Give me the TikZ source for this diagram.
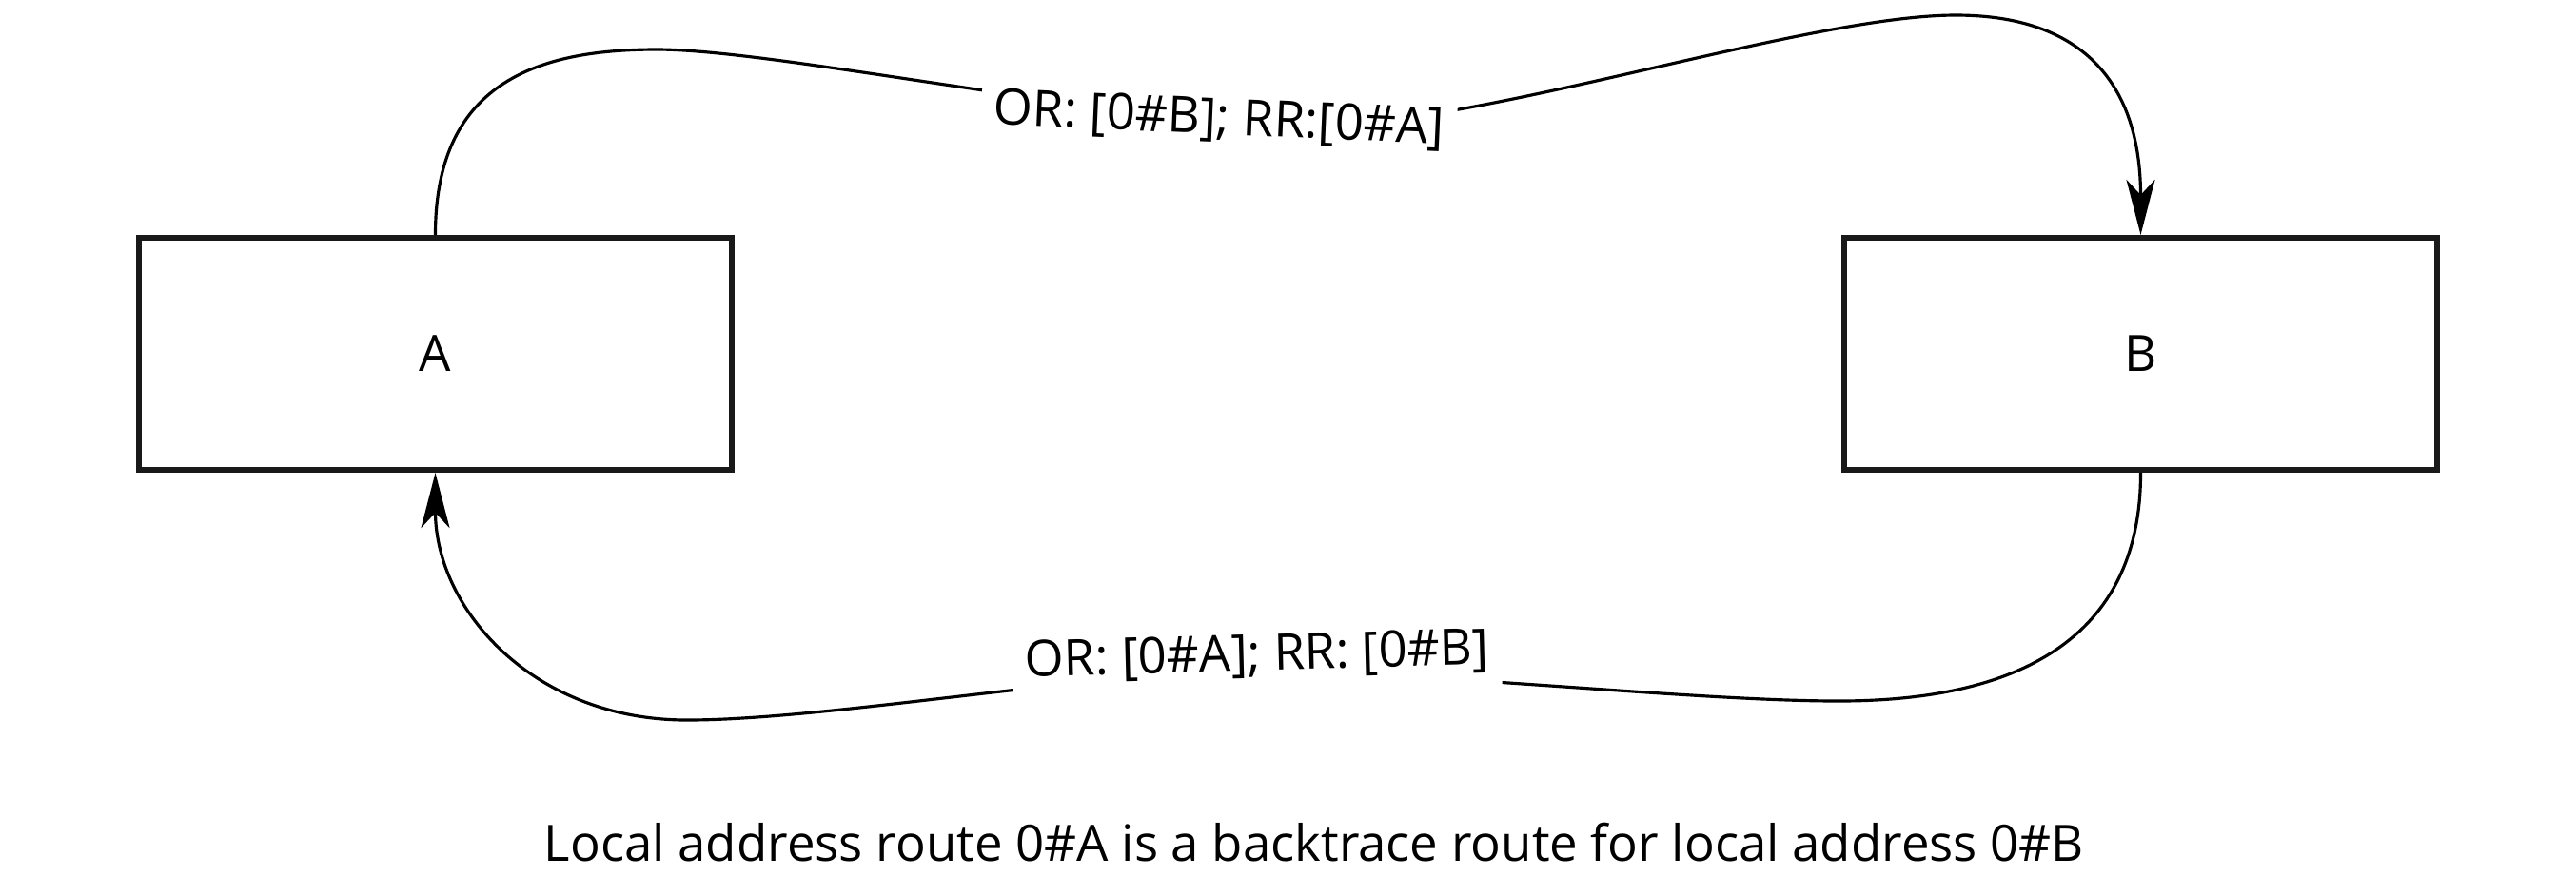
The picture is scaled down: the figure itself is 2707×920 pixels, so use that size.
\documentclass[tikz,border=0pt]{standalone}
\usepackage{fontspec}
\setmainfont{Open Sans}
\usetikzlibrary{positioning, arrows.meta}

\begin{document}
\begin{tikzpicture}[
  x=0.01cm, y=-0.01cm,
  font=\fontsize{15}{18}\selectfont,
  host/.style={rectangle, draw=black!90, line width=1.7pt, minimum width=6.23cm, minimum height=2.44cm},
  route/.style={rectangle, fill=white, inner xsep=3.7pt, inner ysep=4pt},
  arr/.style={-{Stealth[length=5.8mm, width=3mm, inset=1.6mm]}, line width=0.9pt}
]
  \useasboundingbox (0,0) rectangle (2707,920);
  \node[host] (a) at (457.5,372) {A};
  \node[host] (b) at (2249.5,372) {B};
  % points the curves run through
  \coordinate (tl) at (690,52);
  \coordinate (tm) at (1390,131);
  \coordinate (tr) at (2055,16);
  \coordinate (br) at (1932,737);
  \coordinate (bm) at (1320,706);
  \coordinate (bl) at (722,757);
  \draw[arr] (a.north) .. controls (457.5,90) and (560,52) .. (tl)
    .. controls (820,52) and (1180,131) .. (tm)
    .. controls (1560,131) and (1900,16) .. (tr)
    .. controls (2200,16) and (2249.5,100) .. (b.north);
  \draw[arr] (b.south) .. controls (2249.5,650) and (2150,737) .. (br)
    .. controls (1780,737) and (1500,706) .. (bm)
    .. controls (1150,706) and (870,757) .. (bl)
    .. controls (560,757) and (457.5,640) .. (a.south);
  \node[route, rotate=-2.5] (ortop) at (1281,126) {OR: [0\#B]; RR:[0\#A]};
  \node[route, rotate=1.5] (orbot) at (1321,690) {OR: [0\#A]; RR: [0\#B]};
  \node[anchor=base] (caption) at (1381,905) {Local address route 0\#A is a backtrace route for local address 0\#B};
\end{tikzpicture}
\end{document}
